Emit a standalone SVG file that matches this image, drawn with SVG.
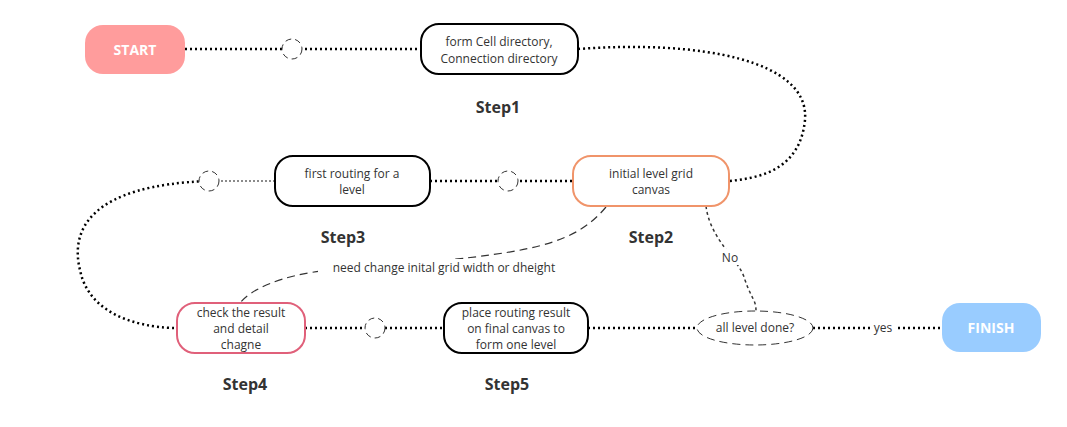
<svg xmlns="http://www.w3.org/2000/svg" width="1067" height="427" viewBox="0 0 1067 427">
<style>
text{font-family:"Open Sans","Noto Sans",sans-serif;fill:#333;text-anchor:middle}
.t{font-size:12px}
.s{font-size:16px;font-weight:bold}
.box{fill:#fff;stroke-width:2}
.dot{fill:none;stroke:#000;stroke-width:2.5;stroke-dasharray:2 3}
.sc{fill:#fff;stroke:#333;stroke-width:1;stroke-dasharray:6 4}
</style>
<rect width="1067" height="427" fill="#fff"/>
<g id="connectors">
<line class="dot" x1="185" y1="49" x2="421" y2="49"/>
<path class="dot" d="M578,49 C700,40 810,60 805,120 C800,170 760,178 729,181"/>
<line class="dot" x1="430" y1="181" x2="573" y2="181"/>
<line x1="209" y1="181" x2="275" y2="181" stroke="#666" stroke-width="1.5" stroke-dasharray="2 2"/>
<path class="dot" d="M209,181 C90,185 70,230 80,270 C90,320 150,328 177,328"/>
<line class="dot" x1="305" y1="328" x2="444" y2="328"/>
<line class="dot" x1="588" y1="328" x2="697" y2="328"/>
<line class="dot" x1="813" y1="328" x2="942" y2="328"/>
<path d="M706,206 C710,240 740,260 745,280 C752,300 756,300 756,311" fill="none" stroke="#333" stroke-width="1.5" stroke-dasharray="3 3"/>
<path d="M606,207 C570,250 520,255 330,270 C280,275 250,290 240,303" fill="none" stroke="#333" stroke-width="1.2" stroke-dasharray="8 5"/>
<circle class="sc" cx="292" cy="49" r="10"/>
<circle class="sc" cx="508" cy="181" r="10"/>
<circle class="sc" cx="209" cy="181" r="10"/>
<circle class="sc" cx="375" cy="328" r="10"/>
<rect x="318" y="259" width="254" height="17" fill="#fff"/>
<text class="t" x="444" y="272">need change inital grid width or dheight</text>
<rect x="719" y="249" width="22" height="16" fill="#fff"/>
<text class="t" x="730" y="262">No</text>
<rect x="871" y="320" width="24" height="16" fill="#fff"/>
<text class="t" x="883" y="332">yes</text>
</g>
<g id="start"><rect x="85" y="25" width="100" height="49" rx="18" fill="#ff9c9c"/><text x="135" y="55" style="fill:#fff;font-size:14px;font-weight:bold">START</text></g>
<g id="step1"><rect class="box" x="421" y="24" width="157" height="50" rx="18" stroke="#000"/><text class="t" x="499" y="46">form Cell directory,</text><text class="t" x="499" y="63">Connection directory</text><text class="s" x="498" y="113">Step1</text></g>
<g id="step2"><rect class="box" x="573" y="156" width="156" height="50" rx="18" stroke="#f0946a"/><text class="t" x="651" y="178">initial level grid</text><text class="t" x="651" y="194">canvas</text><text class="s" x="651" y="243">Step2</text></g>
<g id="step3"><rect class="box" x="275" y="156" width="155" height="50" rx="18" stroke="#000"/><text class="t" x="352" y="178">first routing for a</text><text class="t" x="352" y="194">level</text><text class="s" x="343" y="243">Step3</text></g>
<g id="step4"><rect class="box" x="177" y="303" width="128" height="50" rx="18" stroke="#e0607a"/><text class="t" x="241" y="317">check the result</text><text class="t" x="241" y="333">and detail</text><text class="t" x="241" y="349">chagne</text><text class="s" x="245" y="390">Step4</text></g>
<g id="step5"><rect class="box" x="444" y="303" width="144" height="50" rx="18" stroke="#000"/><text class="t" x="516" y="317">place routing result</text><text class="t" x="516" y="333">on final canvas to</text><text class="t" x="516" y="349">form one level</text><text class="s" x="507" y="390">Step5</text></g>
<g id="decision"><ellipse cx="755" cy="328" rx="58" ry="17" fill="#fff" stroke="#333" stroke-width="1" stroke-dasharray="8 5"/><text class="t" x="755" y="332">all level done?</text></g>
<g id="finish"><rect x="942" y="303" width="99" height="49" rx="18" fill="#99ccff"/><text x="991" y="333" style="fill:#fff;font-size:14px;font-weight:bold">FINISH</text></g>
</svg>
